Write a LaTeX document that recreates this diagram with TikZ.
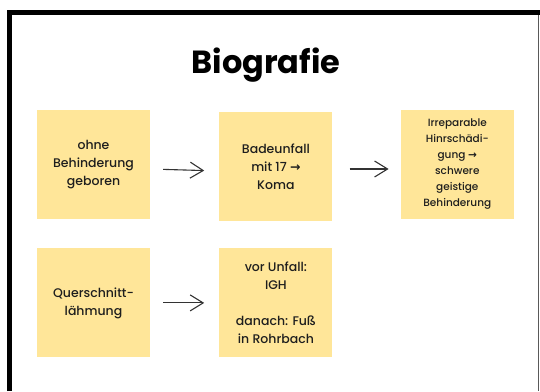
\documentclass[tikz,border=0pt]{standalone}
\usepackage{fontspec}
\setmainfont{Poppins}[UprightFont=* Medium,BoldFont=* Bold]
\newfontfamily\arrowfont{DejaVu Sans}
\usetikzlibrary{arrows.meta,positioning}
\definecolor{NoteYellow}{HTML}{FFE699}
\definecolor{NoteInk}{HTML}{1E1E1E}
\definecolor{ArrowInk}{HTML}{333333}
\newcommand{\then}{{\arrowfont\bfseries →}}
\tikzset{
  >={Straight Barb[length=13pt,width=16pt]},
  flow/.style={->,line width=1.1pt,draw=ArrowInk},
  note/.style={fill=NoteYellow,minimum width=113pt,minimum height=109pt,
    inner sep=3pt,align=center,text=NoteInk,
    font=\fontsize{12.5}{18}\selectfont},
  smallnote/.style={note,font=\fontsize{10.5}{16}\selectfont},
  frame/.style={line width=5pt,draw=black}
}
\begin{document}
\begin{tikzpicture}
  \useasboundingbox (0pt,0pt) rectangle (540pt,-391pt);
  % sheet edge
  \draw[frame] (9.5pt,-391pt) |- (540pt,-12.5pt);
  \draw[line width=1pt,draw=black!65] (538.5pt,-15pt) -- (538.5pt,-391pt);

  \node[font=\fontsize{32}{38}\selectfont\bfseries,anchor=base] (title) at (266pt,-73pt) {Biografie};

  % first row
  \node[note] (born) at (93.5pt,-164.5pt) {ohne\\Behinderung\\geboren};
  \node[note,right=69pt of born,yshift=-2pt] (accident) {Badeunfall\\mit 17 \then\\Koma};
  \node[smallnote,right=68pt of accident,yshift=2pt] (damage) {Irreparable\\Hinrschädi-\\gung \then\\schwere\\geistige\\Behinderung};
  \draw[flow,shorten <=13pt,shorten >=15pt] ([yshift=-4.5pt]born.east) -- ([yshift=-4.5pt]accident.west);
  \draw[flow,shorten <=17pt,shorten >=12pt] ([yshift=-2.5pt]accident.east) -- ([yshift=-4.5pt]damage.west);

  % second row
  \node[note,below=29pt of born] (para) {Querschnitt-\\lähmung};
  \node[note,right=69pt of para] (school) {vor Unfall:\\IGH\\[18pt]danach: Fuß\\in Rohrbach};
  \draw[flow,shorten <=13pt,shorten >=15pt] (para) -- (school);
\end{tikzpicture}
\end{document}
